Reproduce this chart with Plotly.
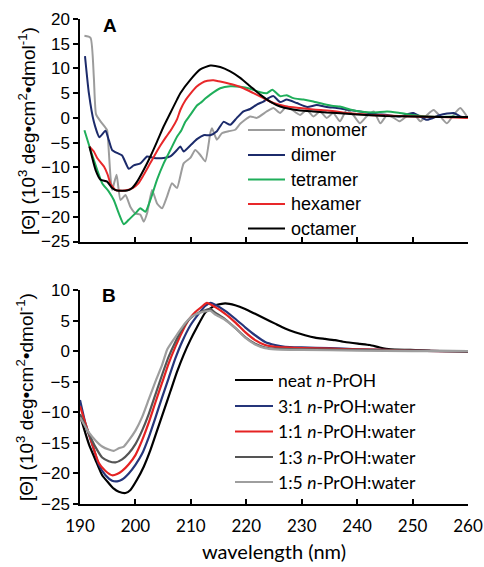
import plotly.graph_objects as go

# ---------------- Panel A data (wavelength nm, [Θ] 10^3 deg cm2 dmol-1) ----------------
mono_wl = [190.8, 191.9, 192.5, 192.9, 193.7, 194.6, 194.9, 195.2, 195.5, 195.8, 196.6, 197.3,
           198.2, 199.1, 200.0, 200.9, 201.5, 202.1, 203.0, 203.9, 204.8, 205.7, 206.6, 207.5,
           208.7, 209.9, 210.8, 211.7, 212.6, 213.5, 213.8, 214.7, 215.6, 216.8, 218.0, 218.9,
           220.7, 221.9, 223.7, 224.9, 226.1, 227.3, 229.7, 230.9, 232.1, 233.3, 234.5, 235.7,
           236.9, 238.1, 239.3, 240.5, 241.7, 243.0, 244.2, 245.4, 246.6, 247.7, 248.9, 250.1,
           251.4, 252.6, 253.8, 255.0, 256.2, 257.4, 258.6, 259.8]
mono_val = [16.6, 16.2, 8.1, 0.7, -0.7, -2.0, -2.5, -6.8, -11.9, -14.6, -11.5, -16.6,
            -15.6, -18.0, -19.3, -19.6, -21.0, -19.3, -14.6, -17.3, -18.3, -15.9, -13.2, -14.2,
            -9.2, -8.1, -6.5, -7.5, -8.8, -3.1, -2.1, -4.4, -3.1, -2.7, -2.4, -1.2,
            0.3, 0.0, 1.3, 2.0, 1.0, 2.3, 0.6, 1.6, 0.3, 1.3, 0.0, 1.0,
            -0.7, 1.6, 0.6, -1.1, 0.3, 1.3, -1.1, 0.6, 0.0, -0.7, 0.3, 1.0,
            -0.7, 0.6, 1.6, 0.3, -1.1, 0.6, 2.0, 0.3]

dimer_wl = [190.9, 191.6, 192.5, 193.5, 194.6, 195.2, 195.8, 196.7, 197.6, 198.8, 199.7, 200.9,
            202.1, 203.3, 205.1, 206.3, 207.5, 208.1, 208.7, 209.9, 211.1, 212.3, 213.5, 214.7,
            215.9, 217.1, 218.3, 219.5, 220.7, 221.9, 223.1, 224.0, 224.9, 226.1, 227.3, 229.1,
            231.0, 232.7, 234.5, 236.3, 238.0, 240.5, 243.0, 245.4, 247.7, 250.1, 252.6, 255.0,
            257.4, 258.6, 259.8]
dimer_val = [12.5, 5.0, -0.8, -3.9, -2.6, -4.5, -6.5, -7.1, -7.6, -10.3, -9.6, -9.2,
             -7.8, -8.1, -8.1, -7.8, -6.5, -5.8, -6.8, -5.6, -4.3, -3.5, -3.5, -2.7,
             -0.8, -1.4, 0.0, 1.3, 1.8, 2.7, 3.3, 4.0, 4.4, 3.2, 3.7, 3.0,
             2.2, 2.6, 2.2, 2.0, 1.7, 1.3, 0.8, 0.6, 0.3, 1.0, -0.4, 0.6,
             1.0, 0.3, 0.1]

tetra_wl = [190.8, 191.9, 193.1, 194.0, 195.2, 196.1, 197.0, 197.9, 198.8, 200.0, 200.9, 201.8,
            202.7, 203.9, 205.1, 206.3, 207.5, 208.3, 209.0, 209.9, 211.1, 211.7, 212.6, 213.5,
            215.3, 217.1, 218.9, 220.7, 222.5, 223.7, 224.7, 226.1, 227.3, 228.5, 230.3, 232.1,
            233.9, 235.7, 236.9, 238.7, 240.5, 243.0, 245.4, 247.7, 250.1, 252.6, 255.0, 257.4,
            259.8]
tetra_val = [-2.5, -6.5, -10.5, -13.2, -14.9, -16.6, -19.3, -21.5, -20.6, -19.3, -18.3, -19.0,
             -16.6, -12.5, -9.2, -6.5, -3.8, -2.5, -0.8, 0.6, 2.5, 3.0, 3.9, 4.7,
             6.0, 6.4, 6.3, 5.9, 5.2, 5.0, 5.7, 4.4, 4.6, 4.0, 3.7, 3.3,
             2.8, 2.4, 2.3, 1.7, 1.3, 1.1, 1.3, 1.0, 0.6, 0.3, 0.2, 0.3,
             0.0]

hexa_wl = [191.7, 192.5, 193.1, 194.3, 195.0, 195.5, 196.4, 198.0, 199.5, 200.5, 201.5, 202.5,
           203.5, 204.5, 205.5, 206.5, 207.5, 208.1, 209.0, 210.0, 211.0, 212.0, 213.0, 214.1,
           215.0, 215.9, 217.7, 219.5, 221.3, 223.1, 224.9, 227.3, 229.7, 232.1, 234.5, 236.3,
           238.0, 240.0, 242.0, 245.0, 250.0, 255.0, 260.0]
hexa_val = [-5.8, -6.8, -8.1, -9.8, -11.5, -13.3, -14.6, -14.7, -14.2, -13.3, -11.5, -9.5,
            -7.5, -5.6, -3.9, -2.3, -0.3, 1.6, 3.5, 5.0, 6.3, 7.1, 7.5, 7.6,
            7.4, 7.2, 6.7, 6.0, 5.0, 4.0, 3.0, 2.3, 2.0, 1.7, 1.5, 1.3,
            1.0, 0.8, 0.6, 0.5, 0.3, 0.2, 0.0]

octa_wl = [191.7, 192.8, 193.7, 194.9, 195.8, 196.7, 198.5, 199.4, 200.3, 201.5, 202.7, 203.9,
           205.1, 206.3, 207.5, 208.1, 209.9, 211.7, 213.5, 215.3, 217.1, 218.9, 220.7, 222.5,
           224.3, 226.1, 227.9, 229.7, 232.1, 234.5, 236.3, 240.0, 245.0, 250.0, 255.0, 260.0]
octa_val = [-5.8, -10.5, -12.5, -12.9, -14.2, -14.7, -14.7, -14.2, -12.9, -10.5, -7.8, -4.8,
            -1.7, 1.0, 3.7, 5.0, 7.7, 9.8, 10.6, 10.3, 9.4, 8.1, 6.4, 4.7,
            3.3, 2.3, 1.8, 1.5, 1.3, 1.1, 1.0, 0.7, 0.4, 0.3, 0.2, 0.2]

# ---------------- Panel B data ----------------
neat_wl = [190.0, 191.6, 192.8, 194.0, 195.2, 196.1, 197.0, 198.2, 199.1, 200.3, 201.5, 202.7,
           203.9, 205.1, 206.3, 207.5, 208.7, 209.9, 211.1, 212.6, 214.4, 216.2, 218.0, 219.8,
           221.6, 223.4, 225.2, 227.0, 228.8, 230.6, 232.4, 234.2, 236.0, 237.8, 240.5, 242.3,
           244.1, 246.0, 249.6, 253.2, 256.0, 260.0]
neat_val = [-10.5, -15.2, -17.8, -20.3, -21.6, -22.5, -23.0, -23.2, -22.7, -21.0, -18.9, -16.2,
            -13.0, -9.8, -6.6, -3.4, -0.6, 1.8, 3.9, 6.3, 7.5, 7.8, 7.5, 6.9,
            6.1, 5.3, 4.5, 3.7, 3.1, 2.6, 2.2, 2.0, 1.8, 1.5, 1.2, 1.0,
            0.6, 0.3, 0.2, 0.05, 0.0, -0.1]

r31_wl = [190.0, 191.0, 192.2, 193.4, 194.6, 195.8, 196.7, 197.6, 198.8, 200.0, 201.2, 202.4,
          203.6, 204.8, 206.0, 207.2, 208.4, 209.9, 211.4, 212.6, 213.6, 214.4, 216.2, 218.0,
          219.8, 221.6, 223.4, 225.2, 227.0, 230.0, 235.0, 240.0, 245.0, 250.0, 255.0, 260.0]
r31_val = [-8.0, -11.9, -15.2, -18.6, -20.3, -21.2, -21.3, -21.0, -20.0, -18.6, -16.8, -14.1,
           -10.9, -7.6, -4.4, -1.2, 1.5, 4.2, 6.1, 7.4, 7.9, 7.6, 6.6, 5.3,
           3.9, 2.6, 1.5, 1.0, 0.7, 0.6, 0.5, 0.3, 0.2, 0.1, 0.0, 0.0]

r11_wl = [190.0, 191.0, 192.2, 193.4, 194.6, 195.8, 196.7, 197.6, 198.8, 200.0, 201.2, 202.4,
          203.6, 204.8, 206.0, 207.2, 208.4, 209.6, 210.8, 212.0, 212.9, 214.4, 216.2, 218.0,
          219.8, 221.6, 223.4, 225.2, 227.0, 230.0, 235.0, 240.0, 245.0, 250.0, 255.0, 260.0]
r11_val = [-9.0, -11.9, -15.2, -18.3, -19.6, -20.3, -20.1, -19.6, -18.5, -17.0, -14.6, -11.7,
           -8.4, -5.2, -2.0, 0.7, 3.1, 5.1, 6.4, 7.3, 7.9, 7.2, 6.1, 4.7,
           3.1, 1.8, 1.0, 0.7, 0.6, 0.5, 0.4, 0.3, 0.2, 0.1, 0.0, 0.0]

r13_wl = [190.0, 191.6, 192.8, 194.0, 195.2, 196.4, 197.6, 198.8, 200.0, 201.2, 202.4, 203.6,
          204.8, 206.0, 207.2, 208.4, 209.9, 211.4, 212.6, 213.5, 214.4, 216.2, 218.0, 219.8,
          221.6, 223.4, 225.2, 230.0, 240.0, 250.0, 260.0]
r13_val = [-10.3, -13.5, -15.7, -17.4, -18.0, -18.2, -17.7, -16.7, -15.2, -13.0, -10.3, -7.1,
           -3.9, -0.9, 1.5, 3.6, 5.4, 6.3, 6.7, 6.9, 6.3, 5.2, 3.8, 2.3,
           1.2, 0.6, 0.4, 0.3, 0.2, 0.1, 0.0]

r15_wl = [190.0, 191.6, 192.8, 194.0, 195.2, 196.1, 197.0, 197.9, 198.8, 200.0, 201.2, 202.4,
          203.6, 204.8, 205.7, 206.6, 207.8, 209.0, 210.2, 211.7, 212.6, 213.5, 214.4, 216.2,
          218.0, 219.8, 221.6, 223.4, 225.2, 230.0, 240.0, 250.0, 260.0]
r15_val = [-10.8, -13.3, -14.6, -15.6, -16.1, -16.3, -15.9, -15.6, -14.6, -13.0, -10.8, -7.9,
           -5.0, -2.3, 0.2, 1.5, 3.1, 4.6, 5.7, 6.3, 6.5, 6.6, 6.0, 5.1,
           3.8, 2.2, 1.1, 0.5, 0.3, 0.2, 0.1, 0.0, 0.0]

names_A = ["monomer", "dimer", "tetramer", "hexamer", "octamer"]
names_B = ["neat <i>n</i>-PrOH", "3:1 <i>n</i>-PrOH:water", "1:1 <i>n</i>-PrOH:water",
           "1:3 <i>n</i>-PrOH:water", "1:5 <i>n</i>-PrOH:water"]
x_ticks = [190, 200, 210, 220, 230, 240, 250, 260]

# ---------------- styles ----------------
colors_A = ["#9c9c9c", "#1c2b6b", "#1fae5a", "#e8282a", "#000000"]
colors_B = ["#000000", "#25357a", "#e52222", "#555555", "#9e9e9e"]
series_A = [(mono_wl, mono_val), (dimer_wl, dimer_val), (tetra_wl, tetra_val),
            (hexa_wl, hexa_val), (octa_wl, octa_val)]
series_B = [(neat_wl, neat_val), (r31_wl, r31_val), (r11_wl, r11_val),
            (r13_wl, r13_val), (r15_wl, r15_val)]

W, H = 484, 567
ML, MR, MT, MB = 80, 16, 19, 63
PW, PH = W - ML - MR, H - MT - MB
domA = [(H - MB - 241.5) / PH, 1.0]
domB = [0.0, (H - MB - 290) / PH]

def px(x):
    return (x - ML) / PW

def py(y):
    return (H - MB - y) / PH

fig = go.Figure()
for (wl, v), n, c in zip(series_A, names_A, colors_A):
    fig.add_trace(go.Scatter(x=wl, y=v, mode="lines", name=n, xaxis="x", yaxis="y",
                             line=dict(color=c, width=2, shape="spline", smoothing=0.5),
                             showlegend=False))
for (wl, v), n, c in zip(series_B, names_B, colors_B):
    fig.add_trace(go.Scatter(x=wl, y=v, mode="lines", name=n, xaxis="x2", yaxis="y2",
                             line=dict(color=c, width=2.2, shape="spline", smoothing=0.5),
                             showlegend=False))

axis_common = dict(showgrid=False, zeroline=False, showline=True, linecolor="black",
                   linewidth=1.5, ticklen=5, tickwidth=1.5, tickcolor="black",
                   automargin=False)
tickfontA = dict(family="Liberation Sans, Arial, sans-serif", size=17, color="black")
tickfontB = dict(family="Lato, sans-serif", size=17, color="black")

fig.update_layout(
    template="none",
    width=W, height=H, margin=dict(l=ML, r=MR, t=MT, b=MB),
    paper_bgcolor="white", plot_bgcolor="white",
    xaxis=dict(domain=[0, 1], range=[190, 260], tickvals=x_ticks, ticks="inside",
               showticklabels=False, anchor="y", **axis_common),
    yaxis=dict(domain=domA, range=[-25, 20], dtick=5, tick0=0, ticks="outside",
               tickfont=tickfontA, anchor="x", **axis_common),
    xaxis2=dict(domain=[0, 1], range=[190, 260], tickvals=x_ticks, ticks="inside",
                tickfont=tickfontB, ticklabelstandoff=6, anchor="y2", **axis_common),
    yaxis2=dict(domain=domB, range=[-25, 10], dtick=5, tick0=0, ticks="outside",
                tickfont=tickfontA, anchor="x2", **axis_common),
)

ytitle = "[Θ] (10<sup>3</sup> deg•cm<sup>2</sup>•dmol<sup>-1</sup>)"
ann = [
    dict(text=ytitle, textangle=-90, xref="paper", yref="paper", x=px(27), y=py(131),
         xanchor="center", yanchor="middle", showarrow=False,
         font=dict(family="Liberation Sans, Arial, sans-serif", size=19, color="black")),
    dict(text=ytitle, textangle=-90, xref="paper", yref="paper", x=px(25), y=py(397),
         xanchor="center", yanchor="middle", showarrow=False,
         font=dict(family="Liberation Sans, Arial, sans-serif", size=19, color="black")),
    dict(text="<b>A</b>", xref="paper", yref="paper", x=px(110), y=py(26),
         xanchor="center", yanchor="middle", showarrow=False,
         font=dict(family="Liberation Sans, Arial, sans-serif", size=19, color="black")),
    dict(text="<b>B</b>", xref="paper", yref="paper", x=px(109), y=py(295),
         xanchor="center", yanchor="middle", showarrow=False,
         font=dict(family="Liberation Sans, Arial, sans-serif", size=19, color="black")),
    dict(text="wavelength (nm)", xref="paper", yref="paper", x=px(274), y=py(551),
         xanchor="center", yanchor="middle", showarrow=False,
         font=dict(family="Lato, sans-serif", size=20, color="black")),
]

shapes = []
rowsA = [130, 155, 179.5, 204, 228.5]
for n, c, r in zip(names_A, colors_A, rowsA):
    shapes.append(dict(type="line", xref="paper", yref="paper", x0=px(248), x1=px(285),
                       y0=py(r), y1=py(r), line=dict(color=c, width=2)))
    ann.append(dict(text=n, xref="paper", yref="paper", x=px(289), y=py(r),
                    xanchor="left", yanchor="middle", showarrow=False,
                    font=dict(family="Liberation Sans, Arial, sans-serif", size=18, color="black")))
rowsB = [380, 406, 431.5, 457, 482]
for n, c, r in zip(names_B, colors_B, rowsB):
    shapes.append(dict(type="line", xref="paper", yref="paper", x0=px(235), x1=px(273),
                       y0=py(r), y1=py(r), line=dict(color=c, width=2)))
    ann.append(dict(text=n, xref="paper", yref="paper", x=px(276), y=py(r),
                    xanchor="left", yanchor="middle", showarrow=False,
                    font=dict(family="Lato, sans-serif", size=17.5, color="black")))

fig.update_layout(annotations=ann, shapes=shapes)
fig.write_html("out.html", config={"displayModeBar": False},
               post_script="document.body.style.margin='0px';document.body.style.overflow='hidden';")
